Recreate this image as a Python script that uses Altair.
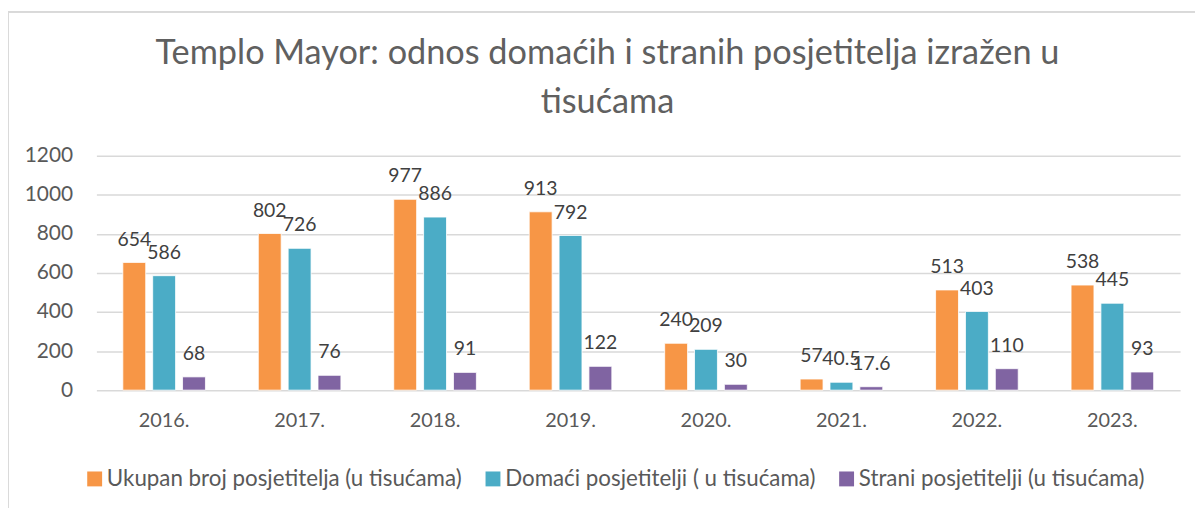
import altair as alt
import pandas as pd

years = ["2016.", "2017.", "2018.", "2019.", "2020.", "2021.", "2022.", "2023."]
series = ["Ukupan broj posjetitelja (u tisućama)",
          "Domaći posjetitelji ( u tisućama)",
          "Strani posjetitelji (u tisućama)"]
ukupan = [654, 802, 977, 913, 240, 57, 513, 538]
domaci = [586, 726, 886, 792, 209, 40.5, 403, 445]
strani = [68, 76, 91, 122, 30, 17.6, 110, 93]
colors = ["#F79646", "#4BACC6", "#8064A2"]
y_ticks = [0, 200, 400, 600, 800, 1000, 1200]
title_lines = ["Templo Mayor: odnos domaćih i stranih posjetitelja izražen u",
               "tisućama"]

rows = []
for name, vals in zip(series, [ukupan, domaci, strani]):
    for yr, v in zip(years, vals):
        rows.append({"year": yr, "series": name, "value": v,
                     "label": f"{v:g}"})
df = pd.DataFrame(rows)

FONT = "Lato"
TXT = "#595959"

x_enc = alt.X("year:N", sort=years, title=None,
              scale=alt.Scale(paddingInner=0.39, paddingOuter=0.195),
              axis=alt.Axis(labelAngle=0, ticks=False, domain=False,
                            labelFontSize=20, labelColor=TXT, labelFont=FONT,
                            labelPadding=21))
xoff = alt.XOffset("series:N", sort=series,
                   scale=alt.Scale(paddingInner=0.233, paddingOuter=0))
y_enc = alt.Y("value:Q", title=None,
              scale=alt.Scale(domain=[0, 1200], nice=False),
              axis=alt.Axis(values=y_ticks, format="d", labelOverlap=False,
                            tickCount=7, ticks=False, domain=False,
                            labelFontSize=21, labelColor=TXT, labelFont=FONT,
                            labelPadding=24, gridColor="#D9D9D9",
                            gridWidth=1.5))

base = alt.Chart(df).encode(x=x_enc, xOffset=xoff, y=y_enc)

bars = base.mark_bar(stroke="white", strokeWidth=0.8).encode(
    color=alt.Color("series:N", sort=series, title=None,
                    scale=alt.Scale(domain=series, range=colors),
                    legend=alt.Legend(orient="none", legendX=-13, legendY=314,
                                      direction="horizontal",
                                      symbolType="square", symbolSize=225,
                                      symbolStrokeWidth=0,
                                      labelFontSize=22.5, labelColor=TXT,
                                      labelFont=FONT, labelOffset=1,
                                      labelLimit=500, columnPadding=19)),
)

labels = base.mark_text(baseline="alphabetic", dy=-17, fontSize=19.5,
                        color="#404040", font=FONT).encode(
    text="label:N",
)

title_df = pd.DataFrame({"line": title_lines, "row": [0, 1]})
title1 = alt.Chart(title_df).transform_filter("datum.row == 0").mark_text(
    fontSize=34.5, font=FONT, fontWeight="normal", color="#606060",
    align="center", baseline="alphabetic"
).encode(text="line:N", x=alt.value(514.5), y=alt.value(-92))
title2 = alt.Chart(title_df).transform_filter("datum.row == 1").mark_text(
    fontSize=34.5, font=FONT, fontWeight="normal", color="#606060",
    align="center", baseline="alphabetic"
).encode(text="line:N", x=alt.value(514.5), y=alt.value(-43))

frame_left = alt.Chart(df).mark_rule(color="#D9D9D9", strokeWidth=1.5).encode(
    x=alt.value(-89), y=alt.value(-145), y2=alt.value(400))
frame_top = alt.Chart(df).mark_rule(color="#D9D9D9", strokeWidth=1.5).encode(
    x=alt.value(-89), x2=alt.value(1110), y=alt.value(-145))

chart = alt.layer(frame_left, frame_top, bars, labels, title1, title2).properties(
    width=1091, height=236,
    autosize=alt.AutoSizeParams(type="none"),
    padding={"left": 89, "top": 147, "right": 15, "bottom": 130},
).configure_view(stroke=None)

chart.save("out.html", embed_options={"renderer": "svg", "actions": False})
